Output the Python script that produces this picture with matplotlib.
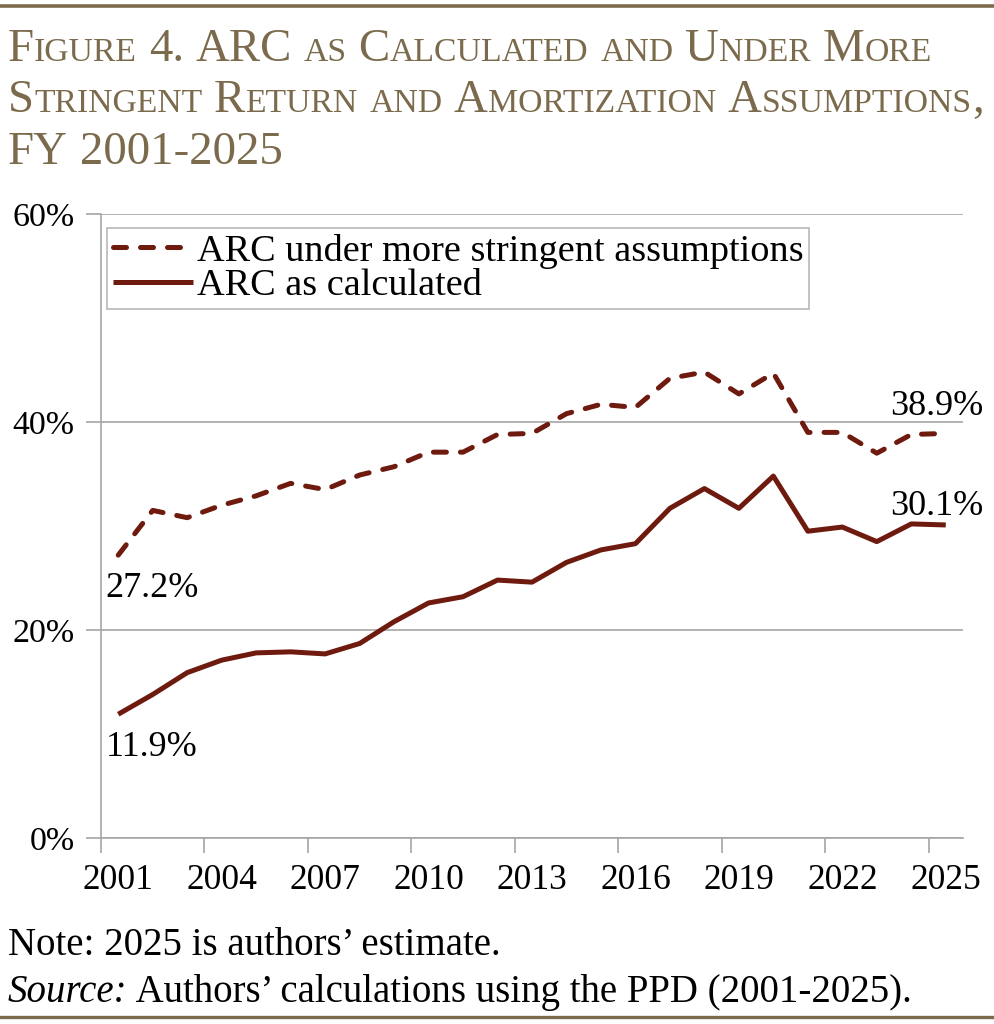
import itertools
import matplotlib
matplotlib.use("Agg")
import matplotlib.pyplot as plt
from matplotlib.transforms import IdentityTransform

# данные (% от фонда оплаты труда)
years = list(range(2001, 2026))
arc_stringent = [27.2, 31.5, 30.8, 32.0, 32.9, 34.1, 33.5, 34.9, 35.7, 37.1, 37.1, 38.8, 38.9,
                 40.8, 41.7, 41.4, 44.2, 44.8, 42.7, 44.7, 39.0, 39.0, 37.0, 38.8, 38.9]
arc_calculated = [11.9, 13.8, 15.9, 17.1, 17.8, 17.9, 17.7, 18.7, 20.8, 22.6, 23.2, 24.8, 24.6,
                  26.5, 27.7, 28.3, 31.7, 33.6, 31.7, 34.8, 29.5, 29.9, 28.5, 30.2, 30.1]
y_ticks = [0, 20, 40, 60]
label_years = years[::3]

title_lines = ["Figure 4. ARC as Calculated and Under More",
               "Stringent Return and Amortization Assumptions,",
               "FY 2001-2025"]

maroon = "#6e1a0e"
gold = "#7b6b4c"
grey = "#a6a6a6"
serif = "Liberation Serif"

plt.rcParams["font.family"] = serif

W, H = 994, 1024
fig = plt.figure(figsize=(W / 100, H / 100), dpi=100)
renderer = fig.canvas.get_renderer()
px = IdentityTransform()

# горизонтальные линейки сверху и снизу
fig.add_artist(plt.Line2D([0, W], [H - 6, H - 6], transform=px, color=gold, lw=2.6))
fig.add_artist(plt.Line2D([0, W], [H - 1017, H - 1017], transform=px, color=gold, lw=2.4))


def text_width(s, size, **kw):
    t = fig.text(0, 0, s, fontsize=size, transform=px, **kw)
    w = t.get_window_extent(renderer).width
    t.remove()
    return w


def smallcaps(x, y, s, size, ratio=0.72, draw=True, **kw):
    # рисуем строку капителью: строчные буквы -> уменьшенные прописные
    space = text_width("a a", size, **kw) - text_width("aa", size, **kw)
    x0 = x
    for i, word in enumerate(s.split(" ")):
        if i > 0:
            x += space
        for low, chars in itertools.groupby(word, key=lambda c: c.islower()):
            part = "".join(chars)
            sz = size * ratio if low else size
            if low:
                part = part.upper()
            if draw:
                fig.text(x, y, part, fontsize=sz, transform=px, va="baseline", **kw)
            x += text_width(part, sz, **kw)
    return x - x0


# подбираем размер шрифта заголовка по ширине второй строки
t_size = 22
w2 = smallcaps(0, 0, title_lines[1], t_size, draw=False)
t_size = t_size * 975 / w2
for line, base in zip(title_lines, [61, 112, 164]):
    smallcaps(8, H - base, line, t_size, color=gold)

# график
ax = fig.add_axes([101 / W, 1 - 838 / H, (963 - 101) / W, (838 - 214) / H])
x = list(range(len(years)))
ax.plot(x, arc_stringent, color=maroon, lw=3.6, dashes=(2.6, 2.8), dash_capstyle="round",
        label="ARC under more stringent assumptions")
ax.plot(x, arc_calculated, color=maroon, lw=3.6, solid_capstyle="butt",
        label="ARC as calculated")

ax.set_xlim(-0.5, len(years) - 0.5)
ax.set_ylim(0, 60)
ax.set_yticks(y_ticks)
ax.set_yticklabels([f"{v}%" for v in y_ticks])
ax.set_xticks([years.index(y) for y in label_years])
ax.set_xticklabels([str(y) for y in label_years])
ax.set_xticks([i - 0.5 for i in range(0, len(years), 3)], minor=True)
ax.tick_params(axis="x", which="major", length=0, pad=19, labelsize=25.5)
ax.tick_params(axis="x", which="minor", length=11, width=1.2, color=grey, direction="out")
ax.tick_params(axis="y", length=11, width=1.2, color=grey, pad=8, labelsize=24.5)
ax.grid(axis="y", color=grey, lw=1.2)
ax.set_axisbelow(True)
for side in ["top", "right"]:
    ax.spines[side].set_visible(False)
for side in ["left", "bottom"]:
    ax.spines[side].set_color(grey)
    ax.spines[side].set_linewidth(1.2)
ax.spines["bottom"].set_zorder(0.5)

leg = ax.legend(loc="upper left", bbox_to_anchor=(107, H - 228), bbox_transform=px,
                fontsize=27.5, frameon=True, fancybox=False, edgecolor=grey,
                handlelength=2.1, handletextpad=0.1, borderpad=0.15, labelspacing=0.0,
                borderaxespad=0)
leg.get_frame().set_linewidth(1.2)

# подписи крайних значений
lab = dict(textcoords="offset pixels", fontsize=26, va="baseline")
ax.annotate(f"{arc_stringent[0]}%", (0, arc_stringent[0]), xytext=(-13, -42), ha="left", **lab)
ax.annotate(f"{arc_calculated[0]}%", (0, arc_calculated[0]), xytext=(-12, -42), ha="left", **lab)
ax.annotate(f"{arc_stringent[-1]}%", (len(years) - 1, arc_stringent[-1]), xytext=(38, 18),
            ha="right", **lab)
ax.annotate(f"{arc_calculated[-1]}%", (len(years) - 1, arc_calculated[-1]), xytext=(38, 10),
            ha="right", **lab)

# примечание и источник
fig.text(8, H - 955, "Note: 2025 is authors\u2019 estimate.", fontsize=28, transform=px, va="baseline")
wsrc = text_width("Source:", 28, style="italic")
fig.text(8, H - 1002, "Source:", fontsize=28, style="italic", transform=px, va="baseline")
fig.text(8 + wsrc, H - 1002, " Authors\u2019 calculations using the PPD (2001-2025).", fontsize=28,
         transform=px, va="baseline")

fig.savefig("out.png", dpi=100)
